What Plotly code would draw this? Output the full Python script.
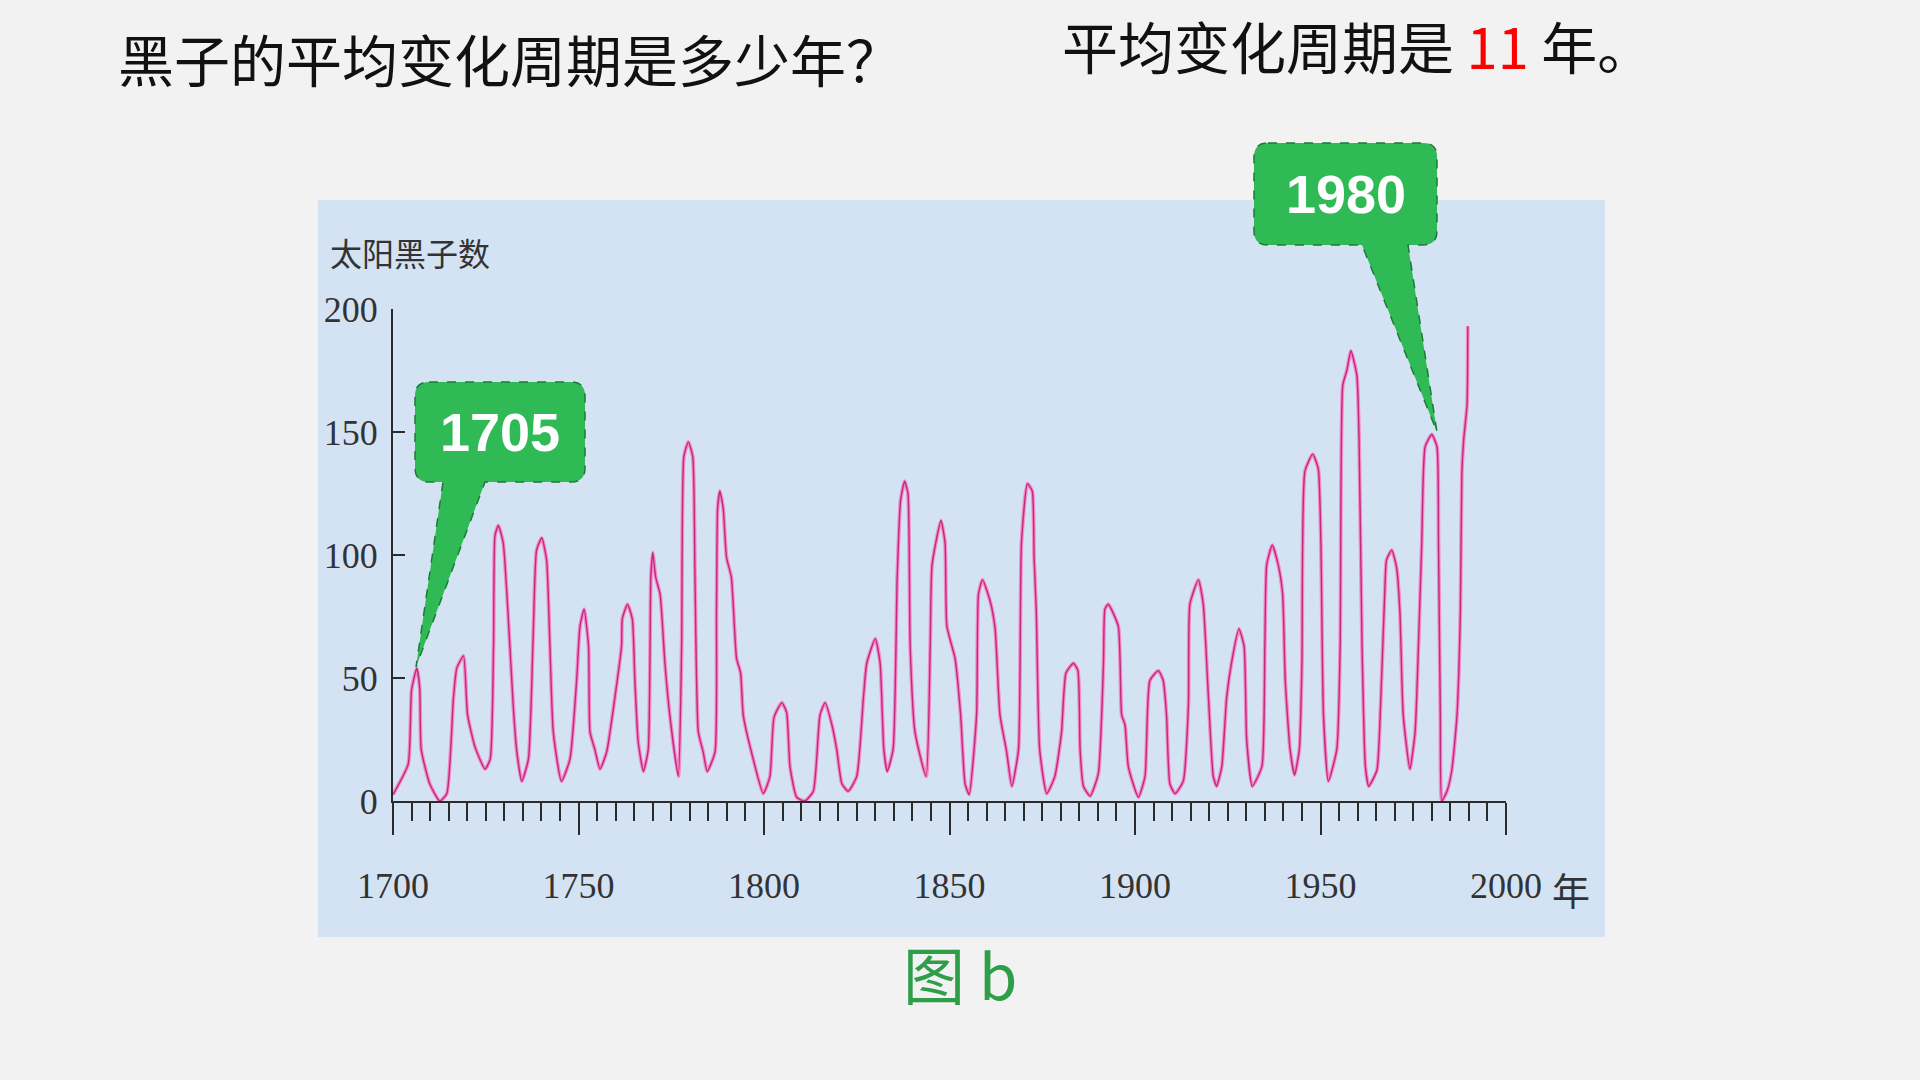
import plotly.graph_objects as go

# ---------------- data ----------------
years = [1700.0, 1704.1, 1705.0, 1706.4, 1707.2, 1707.6, 1709.9, 1712.6, 1714.5, 1716.3,
         1717.2, 1719.0, 1720.1, 1722.1, 1724.8, 1726.2, 1727.1, 1727.5, 1728.4, 1729.7,
         1731.5, 1732.4, 1733.3, 1734.7, 1736.5, 1737.8, 1738.7, 1740.1, 1741.4, 1742.3,
         1743.2, 1745.4, 1747.7, 1749.5, 1750.4, 1751.5, 1752.7, 1753.1, 1754.4, 1755.8,
         1757.6, 1759.8, 1761.6, 1761.8, 1763.2, 1764.5, 1765.2, 1766.1, 1767.5, 1768.8,
         1769.5, 1770.0, 1770.8, 1772.0, 1773.3, 1774.6, 1776.9, 1777.8, 1778.4, 1779.6,
         1780.8, 1781.4, 1782.3, 1783.6, 1784.7, 1786.8, 1787.2, 1787.5, 1788.1, 1789.0,
         1789.9, 1791.2, 1792.6, 1793.7, 1794.4, 1797.1, 1799.8, 1801.6, 1802.7, 1804.8,
         1806.1, 1807.0, 1808.8, 1811.0, 1813.3, 1815.1, 1816.5, 1818.3, 1819.6, 1821.0,
         1822.7, 1825.0, 1826.8, 1827.7, 1830.0, 1831.3, 1832.3, 1833.2, 1834.8, 1835.9,
         1836.8, 1837.9, 1838.8, 1839.4, 1840.7, 1843.7, 1844.8, 1845.3, 1847.7, 1848.8,
         1849.3, 1851.5, 1853.0, 1854.2, 1855.3, 1857.3, 1857.8, 1858.9, 1861.0, 1862.3,
         1863.6, 1865.4, 1866.8, 1868.6, 1869.4, 1871.0, 1872.3, 1872.8, 1873.4, 1874.3,
         1876.2, 1878.4, 1880.2, 1881.4, 1883.4, 1884.6, 1885.2, 1886.1, 1887.9, 1890.1,
         1891.5, 1891.9, 1892.8, 1895.5, 1896.4, 1897.3, 1898.2, 1900.9, 1902.7, 1904.0,
         1906.3, 1907.6, 1908.5, 1909.4, 1910.8, 1913.0, 1914.4, 1914.8, 1917.1, 1918.4,
         1919.8, 1921.1, 1922.0, 1923.4, 1924.7, 1926.0, 1928.0, 1929.4, 1930.1, 1931.6,
         1934.2, 1935.0, 1935.5, 1937.0, 1938.6, 1939.8, 1940.5, 1941.8, 1943.0, 1944.3,
         1945.0, 1945.8, 1947.9, 1949.4, 1950.1, 1950.8, 1952.1, 1954.4, 1955.3, 1956.0,
         1957.1, 1958.2, 1959.8, 1960.4, 1961.2, 1962.1, 1963.0, 1965.2, 1966.1, 1967.4,
         1967.8, 1969.2, 1970.5, 1971.4, 1972.3, 1974.1, 1975.5, 1976.4, 1977.3, 1978.2,
         1980.0, 1981.4, 1981.8, 1982.3, 1982.7, 1984.1, 1985.4, 1986.8, 1987.7, 1988.1,
         1988.6, 1989.5, 1989.7]
sunspots = [2.6, 15, 45, 54, 46, 21, 7, 0, 3, 42,
            54, 59, 35, 22, 13, 17, 63, 108, 112, 105,
            63, 39, 21, 8, 17, 68, 102, 107, 98, 63,
            28, 8, 17, 49, 71, 78, 63, 28, 21, 13,
            20, 42, 63, 74, 80, 74, 49, 24, 12, 21,
            91, 101, 91, 84, 56, 35, 10, 63, 140, 146,
            140, 91, 28, 20, 12, 20, 77, 119, 126, 119,
            99, 91, 58, 52, 35, 17, 3, 10, 34, 40,
            36, 14, 1.5, 0, 4, 35, 40, 31, 21, 7,
            4, 10, 42, 56, 66, 56, 21, 12, 21, 91,
            122, 130, 125, 63, 28, 10, 63, 96, 114, 105,
            71, 58, 35, 7, 2.6, 35, 84, 90, 81, 70,
            35, 20, 6, 21, 105, 129, 126, 99, 77, 21,
            3, 10, 28, 52, 56, 53, 21, 6, 2, 11,
            56, 78, 80, 71, 35, 31, 14, 1.5, 10, 49,
            53, 49, 35, 7, 3, 8, 39, 80, 90, 80,
            42, 10, 6, 14, 42, 56, 70, 63, 25, 6,
            14, 63, 96, 104, 96, 84, 49, 21, 10.5, 21,
            56, 134, 141, 135, 105, 35, 8, 21, 63, 169,
            175, 183, 173, 147, 63, 14, 6, 12.5, 35, 88,
            98, 102, 95, 77, 35, 13, 28, 63, 105, 144,
            149, 144, 105, 35, 0, 4, 12.5, 35, 77, 133,
            147, 161, 193]

x_tick_values = [1700, 1750, 1800, 1850, 1900, 1950, 2000]
y_tick_values = [0, 50, 100, 150, 200]

callout_labels = ["1705", "1980"]
callout_years = [1706.2, 1981.4]
callout_values = [54.5, 150]

question_text = "黑子的平均变化周期是多少年？"
answer_text = '平均变化周期是 <span style="color:#ff0000">11</span> 年。'
y_title_text = "太阳黑子数"
x_unit_text = "年"
caption_text = "图 b"

# ---------------- layout constants ----------------
W, H = 1920, 1080
X_RANGE = [1700, 2000]
Y_RANGE = [0, 200]
X_DOM = [393 / W, 1506 / W]
Y_DOM = [1 - 801 / H, 1 - 309 / H]

GREEN = "#2fba55"
GREEN_EDGE = "#1d7a38"
PINK_HALO = "#f58ac8"
PINK_CORE = "#bf2a7e"
AXIS_COL = "#2b2b2b"


def to_px(xv, yv):
    fx = X_DOM[0] + (xv - X_RANGE[0]) / (X_RANGE[1] - X_RANGE[0]) * (X_DOM[1] - X_DOM[0])
    fy = Y_DOM[0] + (yv - Y_RANGE[0]) / (Y_RANGE[1] - Y_RANGE[0]) * (Y_DOM[1] - Y_DOM[0])
    return fx * W, (1 - fy) * H


def P(px, py):
    return f"{px / W:.5f},{1 - py / H:.5f}"


def callout_path(bx0, by0, bx1, by1, r, tb0, tb1, tip):
    tx, ty = tip
    return (f"M {P(bx0 + r, by0)} L {P(bx1 - r, by0)} Q {P(bx1, by0)} {P(bx1, by0 + r)} "
            f"L {P(bx1, by1 - r)} Q {P(bx1, by1)} {P(bx1 - r, by1)} "
            f"L {P(tb1, by1)} L {P(tx, ty)} L {P(tb0, by1)} "
            f"L {P(bx0 + r, by1)} Q {P(bx0, by1)} {P(bx0, by1 - r)} "
            f"L {P(bx0, by0 + r)} Q {P(bx0, by0)} {P(bx0 + r, by0)} Z")


# box geometry (pixels) for each callout: x0, y0, x1, y1, tail base x0, tail base x1
callout_boxes = [(415, 382, 585, 482, 443, 485),
                 (1254, 143, 1437, 245, 1362, 1408)]

fig = go.Figure()

fig.add_trace(go.Scatter(x=years, y=sunspots, mode="lines",
                         line=dict(color=PINK_HALO, width=3.8, shape="spline", smoothing=0.5),
                         hoverinfo="skip", showlegend=False))
fig.add_trace(go.Scatter(x=years, y=sunspots, mode="lines",
                         line=dict(color=PINK_CORE, width=1.4, shape="spline", smoothing=0.5),
                         showlegend=False))

shapes = [dict(type="rect", xref="paper", yref="paper",
               x0=318 / W, x1=1605 / W, y0=1 - 937 / H, y1=1 - 200 / H,
               fillcolor="#d4e3f3", line=dict(width=0), layer="below")]
annotations = []
for lab, cy, cv, box in zip(callout_labels, callout_years, callout_values, callout_boxes):
    bx0, by0, bx1, by1, tb0, tb1 = box
    tip = to_px(cy, cv)
    shapes.append(dict(type="path", xref="paper", yref="paper",
                       path=callout_path(bx0, by0, bx1, by1, 14, tb0, tb1, tip),
                       fillcolor=GREEN, line=dict(color=GREEN_EDGE, width=1.5, dash="dash"),
                       layer="above"))
    annotations.append(dict(x=(bx0 + bx1) / 2 / W, y=1 - (by0 + by1) / 2 / H,
                            xref="paper", yref="paper", text=f"<b>{lab}</b>", showarrow=False,
                            font=dict(family="Liberation Sans, Arial", size=54, color="white"),
                            xanchor="center", yanchor="middle"))

annotations += [
    dict(x=116 / W, y=1 - 57 / H, xref="paper", yref="paper", text=question_text,
         showarrow=False, xanchor="left", yanchor="middle",
         font=dict(family="Noto Sans CJK SC", size=56, color="#111111")),
    dict(x=1060 / W, y=1 - 45 / H, xref="paper", yref="paper", text=answer_text,
         showarrow=False, xanchor="left", yanchor="middle",
         font=dict(family="Noto Sans CJK SC", size=56, color="#111111")),
    dict(x=328 / W, y=1 - 252 / H, xref="paper", yref="paper", text=y_title_text,
         showarrow=False, xanchor="left", yanchor="middle",
         font=dict(family="Noto Sans CJK SC", size=32, color="#333333")),
    dict(x=1571 / W, y=1 - 888 / H, xref="paper", yref="paper", text=x_unit_text,
         showarrow=False, xanchor="center", yanchor="middle",
         font=dict(family="Noto Sans CJK SC", size=38, color="#333333")),
    dict(x=960 / W, y=1 - 973 / H, xref="paper", yref="paper", text=caption_text,
         showarrow=False, xanchor="center", yanchor="middle",
         font=dict(family="Noto Sans CJK SC", size=62, color="#2e9e48")),
]

fig.update_layout(
    width=W, height=H,
    margin=dict(l=0, r=0, t=0, b=0),
    paper_bgcolor="#f2f2f2",
    plot_bgcolor="rgba(0,0,0,0)",
    shapes=shapes,
    annotations=annotations,
    showlegend=False,
    xaxis=dict(range=X_RANGE, domain=X_DOM, showline=True, linecolor=AXIS_COL, linewidth=2,
               ticks="outside", tickvals=x_tick_values, ticklen=32, tickwidth=1.6,
               tickcolor=AXIS_COL, showgrid=False, zeroline=False, automargin=False,
               tickfont=dict(family="Liberation Serif, Times New Roman", size=36, color="#333333"),
               ticklabelstandoff=20,
               minor=dict(dtick=5, tick0=1700, ticks="outside", ticklen=18, tickwidth=1.5,
                          tickcolor=AXIS_COL, showgrid=False)),
    yaxis=dict(range=Y_RANGE, domain=Y_DOM, showline=True, linecolor=AXIS_COL, linewidth=2,
               ticks="inside", tickvals=y_tick_values, ticklen=12, tickwidth=1.6,
               tickcolor=AXIS_COL, showgrid=False, zeroline=False, automargin=False,
               tickfont=dict(family="Liberation Serif, Times New Roman", size=36, color="#333333"),
               ticklabelstandoff=6),
)

fig.write_html("out.html", config={"displayModeBar": False},
               post_script="document.body.style.margin='0';document.body.style.overflow='hidden';")
